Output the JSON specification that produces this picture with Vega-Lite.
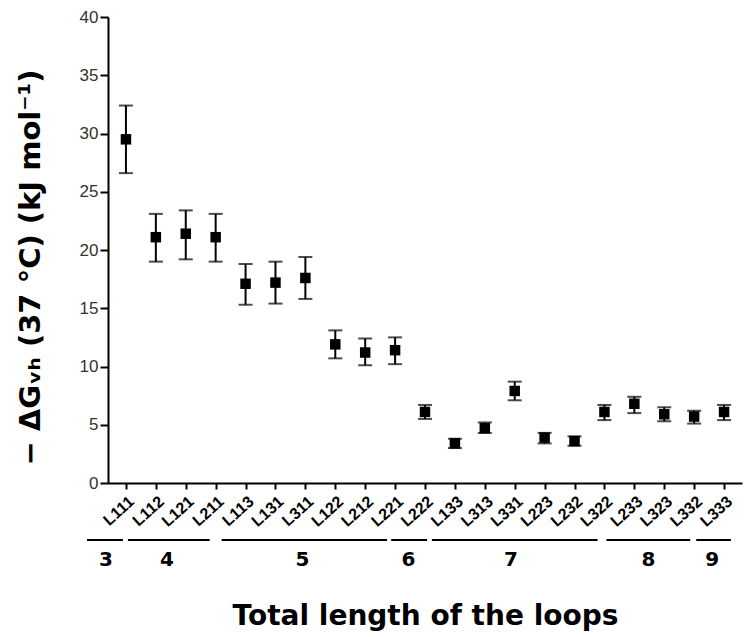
{
  "$schema": "https://vega.github.io/schema/vega-lite/v6.json",
  "width": 634,
  "height": 466,
  "autosize": "none",
  "padding": {"left": 108, "top": 17, "right": 13, "bottom": 154},
  "background": "white",
  "config": {
    "view": {"stroke": null},
    "axis": {"domainColor": "black", "tickColor": "black", "labelColor": "#111", "titleColor": "black", "grid": false}
  },
  "datasets": {
    "points": [
      {"loop": "L111", "mean": 29.5, "lo": 26.6, "hi": 32.4},
      {"loop": "L112", "mean": 21.1, "lo": 19.0, "hi": 23.1},
      {"loop": "L121", "mean": 21.4, "lo": 19.2, "hi": 23.4},
      {"loop": "L211", "mean": 21.1, "lo": 19.0, "hi": 23.1},
      {"loop": "L113", "mean": 17.1, "lo": 15.3, "hi": 18.8},
      {"loop": "L131", "mean": 17.2, "lo": 15.4, "hi": 19.0},
      {"loop": "L311", "mean": 17.6, "lo": 15.8, "hi": 19.4},
      {"loop": "L122", "mean": 11.9, "lo": 10.7, "hi": 13.1},
      {"loop": "L212", "mean": 11.2, "lo": 10.1, "hi": 12.4},
      {"loop": "L221", "mean": 11.4, "lo": 10.2, "hi": 12.5},
      {"loop": "L222", "mean": 6.1, "lo": 5.5, "hi": 6.7},
      {"loop": "L133", "mean": 3.4, "lo": 3.0, "hi": 3.8},
      {"loop": "L313", "mean": 4.7, "lo": 4.3, "hi": 5.2},
      {"loop": "L331", "mean": 7.9, "lo": 7.1, "hi": 8.7},
      {"loop": "L223", "mean": 3.9, "lo": 3.4, "hi": 4.3},
      {"loop": "L232", "mean": 3.6, "lo": 3.2, "hi": 4.0},
      {"loop": "L322", "mean": 6.1, "lo": 5.4, "hi": 6.7},
      {"loop": "L233", "mean": 6.8, "lo": 6.0, "hi": 7.4},
      {"loop": "L323", "mean": 5.9, "lo": 5.3, "hi": 6.5},
      {"loop": "L332", "mean": 5.7, "lo": 5.1, "hi": 6.2},
      {"loop": "L333", "mean": 6.1, "lo": 5.4, "hi": 6.7}
    ],
    "groups": [
      {"total": "3", "start": -0.3, "end": 0.9, "mid": 0.33},
      {"total": "4", "start": 1.07, "end": 3.8, "mid": 2.37},
      {"total": "5", "start": 4.2, "end": 9.73, "mid": 6.9},
      {"total": "6", "start": 9.87, "end": 11.07, "mid": 10.45},
      {"total": "7", "start": 11.23, "end": 16.77, "mid": 13.87},
      {"total": "8", "start": 17.07, "end": 19.87, "mid": 18.47},
      {"total": "9", "start": 20.07, "end": 21.23, "mid": 20.6}
    ]
  },
  "resolve": {"scale": {"x": "independent"}, "axis": {"x": "independent"}},
  "layer": [
    {
      "data": {"name": "points"},
      "encoding": {
        "x": {
          "field": "loop", "type": "ordinal", "sort": null,
          "scale": {"type": "point", "padding": 0.6},
          "axis": {
            "title": "Total length of the loops",
            "titleFont": "DejaVu Sans", "titleFontSize": 28, "titleFontWeight": "bold",
            "titlePadding": 73,
            "labelAngle": -42, "labelFont": "Liberation Sans", "labelFontSize": 16, "labelFontWeight": "bold",
            "labelColor": "black", "labelPadding": 4,
            "domainWidth": 2, "tickWidth": 2, "tickSize": 6
          }
        }
      },
      "layer": [
        {
          "mark": {"type": "rule", "color": "black", "strokeWidth": 2},
          "encoding": {
            "y": {
              "field": "lo", "type": "quantitative",
              "scale": {"domain": [0, 40], "nice": false},
              "axis": {
                "title": "− ΔGᵥₕ (37 °C) (kJ mol⁻¹)",
                "titleFont": "DejaVu Sans", "titleFontSize": 29, "titleFontWeight": "bold",
                "titlePadding": 34, "titleY": 250,
                "values": [0, 2.5, 5, 7.5, 10, 12.5, 15, 17.5, 20, 22.5, 25, 27.5, 30, 32.5, 35, 37.5, 40],
                "labelExpr": "datum.value % 5 === 0 ? datum.label : ''",
                "labelFont": "Liberation Sans", "labelFontSize": 17, "labelColor": "#333",
                "labelPadding": 2,
                "domainWidth": 2, "tickWidth": 2,
                "tickSize": {"condition": {"test": "datum.value % 5 === 0", "value": 8}, "value": 4}
              }
            },
            "y2": {"field": "hi"}
          }
        },
        {
          "mark": {"type": "tick", "color": "black", "size": 14, "thickness": 2},
          "encoding": {"y": {"field": "lo", "type": "quantitative"}}
        },
        {
          "mark": {"type": "tick", "color": "black", "size": 14, "thickness": 2},
          "encoding": {"y": {"field": "hi", "type": "quantitative"}}
        },
        {
          "mark": {"type": "square", "color": "black", "opacity": 1, "size": 110},
          "encoding": {"y": {"field": "mean", "type": "quantitative"}}
        }
      ]
    },
    {
      "data": {"name": "groups"},
      "encoding": {
        "x": {"field": "start", "type": "quantitative", "scale": {"domain": [0.4, 21.6], "nice": false, "zero": false}, "axis": null}
      },
      "layer": [
        {
          "mark": {"type": "rule", "color": "black", "strokeWidth": 2},
          "encoding": {
            "x2": {"field": "end"},
            "y": {"datum": -4.9, "type": "quantitative"}
          }
        },
        {
          "mark": {"type": "text", "font": "DejaVu Sans", "fontSize": 20, "fontWeight": "bold", "color": "black", "baseline": "middle"},
          "encoding": {
            "x": {"field": "mid", "type": "quantitative"},
            "y": {"datum": -6.6, "type": "quantitative"},
            "text": {"field": "total"}
          }
        }
      ]
    }
  ]
}
